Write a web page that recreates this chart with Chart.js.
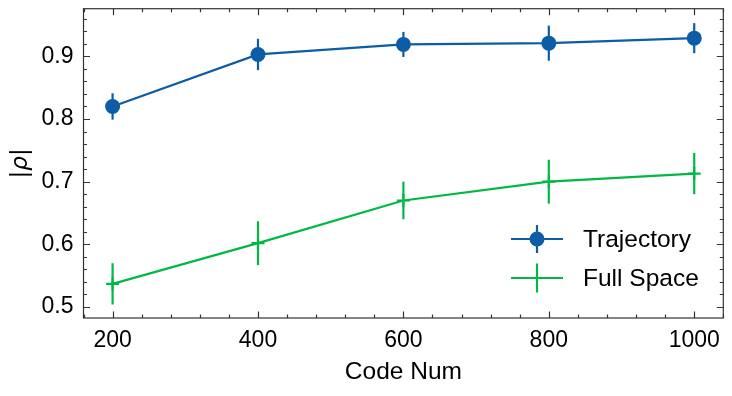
<!DOCTYPE html>
<html>
<head>
<meta charset="utf-8">
<script src="https://cdn.jsdelivr.net/npm/chart.js@4/dist/chart.umd.min.js"></script>
<style>
  html, body { margin: 0; padding: 0; background: #fff; }
  #wrap { width: 732px; height: 396px; position: relative; }
</style>
</head>
<body>
<div id="wrap"><canvas id="chart"></canvas></div>
<script>
// data
const codeNum = [200, 400, 600, 800, 1000];
const trajectory = [0.820, 0.903, 0.919, 0.921, 0.929];
const trajectoryErr = [0.021, 0.025, 0.020, 0.028, 0.024];
const fullSpace = [0.537, 0.602, 0.670, 0.700, 0.713];
const fullSpaceErr = [0.033, 0.035, 0.030, 0.035, 0.033];
const xTicks = [200, 400, 600, 800, 1000];
const yTicks = [0.5, 0.6, 0.7, 0.8, 0.9];

const BLUE = '#0C5DA5';
const GREEN = '#00B945';
const AXIS = '#333333';
const FONT = '"Liberation Sans", Arial, sans-serif';

const toPoints = (ys) => codeNum.map((x, i) => ({ x: x, y: ys[i] }));

// error bars, drawn through the scales
const errorBars = {
    id: 'errorBars',
    beforeDatasetsDraw(chart) {
        const ctx = chart.ctx;
        const xs = chart.scales.x, ys = chart.scales.y;
        chart.data.datasets.forEach(ds => {
            ctx.save();
            ctx.strokeStyle = ds.borderColor;
            ctx.lineWidth = 2.2;
            ds.data.forEach((p, i) => {
                const e = ds.errors[i];
                const px = xs.getPixelForValue(p.x);
                ctx.beginPath();
                ctx.moveTo(px, ys.getPixelForValue(p.y - e));
                ctx.lineTo(px, ys.getPixelForValue(p.y + e));
                ctx.stroke();
            });
            ctx.restore();
        });
    }
};

// inward ticks on all four sides, frame, legend and y title
const frame = {
    id: 'frame',
    afterDraw(chart) {
        const ctx = chart.ctx;
        const a = chart.chartArea;
        const xs = chart.scales.x, ys = chart.scales.y;
        ctx.save();
        ctx.strokeStyle = AXIS;
        ctx.lineWidth = 1.2;
        ctx.strokeRect(a.left, a.top, a.right - a.left, a.bottom - a.top);
        ctx.beginPath();
        // x ticks, minor every 40
        for (let v = 160; v <= 1040.01; v += 40) {
            const px = Math.round(xs.getPixelForValue(v)) + 0.5;
            const len = (v % 200 === 0) ? 6.5 : 3.5;
            ctx.moveTo(px, a.bottom); ctx.lineTo(px, a.bottom - len);
            ctx.moveTo(px, a.top); ctx.lineTo(px, a.top + len);
        }
        // y ticks, minor every 0.02
        for (let k = 25; k <= 48; k++) {
            const v = k * 0.02;
            const py = Math.round(ys.getPixelForValue(v)) + 0.5;
            const len = (k % 5 === 0) ? 6.5 : 3.5;
            ctx.moveTo(a.left, py); ctx.lineTo(a.left + len, py);
            ctx.moveTo(a.right, py); ctx.lineTo(a.right - len, py);
        }
        ctx.stroke();
        ctx.restore();

        // legend, lower right
        const items = [
            { label: 'Trajectory', color: BLUE, marker: 'circle', y: 239, err: 14 },
            { label: 'Full Space', color: GREEN, marker: 'cross', y: 278, err: 14.5 }
        ];
        ctx.save();
        items.forEach(it => {
            ctx.strokeStyle = it.color;
            ctx.fillStyle = it.color;
            ctx.lineWidth = 2.2;
            ctx.beginPath();
            ctx.moveTo(511, it.y); ctx.lineTo(563, it.y);
            ctx.moveTo(537, it.y - it.err); ctx.lineTo(537, it.y + it.err);
            ctx.stroke();
            if (it.marker === 'circle') {
                ctx.beginPath();
                ctx.arc(537, it.y, 7.5, 0, Math.PI * 2);
                ctx.fill();
            }
            ctx.fillStyle = '#000';
            ctx.font = '24.5px ' + FONT;
            ctx.textBaseline = 'middle';
            ctx.textAlign = 'left';
            ctx.fillText(it.label, 583, it.y + 1);
        });
        ctx.restore();

        // y title |ρ| with italic rho
        ctx.save();
        ctx.translate(21, (a.top + a.bottom) / 2);
        ctx.rotate(-Math.PI / 2);
        ctx.fillStyle = '#000';
        ctx.textBaseline = 'middle';
        ctx.textAlign = 'left';
        ctx.font = '23px "DejaVu Sans", sans-serif';
        const bw = ctx.measureText('|').width;
        ctx.font = 'italic 23px "DejaVu Sans", sans-serif';
        const rw = ctx.measureText('ρ').width;
        const x0 = -(bw * 2 + rw) / 2;
        ctx.font = '23px "DejaVu Sans", sans-serif';
        ctx.fillText('|', x0, 0);
        ctx.fillText('|', x0 + bw + rw, 0);
        ctx.font = 'italic 23px "DejaVu Sans", sans-serif';
        ctx.fillText('ρ', x0 + bw, 0);
        ctx.restore();
    }
};

new Chart(document.getElementById('chart'), {
    type: 'line',
    data: {
        datasets: [
            {
                label: 'Trajectory',
                data: toPoints(trajectory),
                errors: trajectoryErr,
                borderColor: BLUE,
                backgroundColor: BLUE,
                borderWidth: 2.2,
                pointStyle: 'circle',
                pointRadius: 7.5,
                pointBorderWidth: 0,
                tension: 0
            },
            {
                label: 'Full Space',
                data: toPoints(fullSpace),
                errors: fullSpaceErr,
                borderColor: GREEN,
                backgroundColor: GREEN,
                borderWidth: 2.2,
                pointStyle: 'cross',
                pointRadius: 6.5,
                pointBorderWidth: 2.2,
                tension: 0
            }
        ]
    },
    options: {
        responsive: true,
        maintainAspectRatio: false,
        animation: false,
        layout: { padding: { left: 0, right: 8, top: 8, bottom: 0 } },
        plugins: {
            legend: { display: false },
            tooltip: { enabled: false }
        },
        scales: {
            x: {
                type: 'linear',
                min: 160,
                max: 1040,
                afterBuildTicks: (s) => { s.ticks = xTicks.map(v => ({ value: v })); },
                afterFit: (s) => {
                    s.height = 78;
                    s.paddingLeft = 0; s.paddingRight = 0;
                },
                grid: { display: false, drawTicks: false },
                border: { display: false },
                ticks: {
                    color: '#000',
                    padding: 9,
                    font: { family: FONT, size: 23 },
                    maxRotation: 0,
                    autoSkip: false,
                    callback: (v) => String(v)
                },
                title: {
                    display: true,
                    text: 'Code Num',
                    color: '#000',
                    font: { family: FONT, size: 24.5 },
                    padding: { top: 4, bottom: 9 }
                }
            },
            y: {
                type: 'linear',
                min: 0.4825,
                max: 0.976,
                afterBuildTicks: (s) => { s.ticks = yTicks.map(v => ({ value: v })); },
                afterFit: (s) => {
                    s.width = 83.5;
                    s.paddingTop = 0; s.paddingBottom = 0;
                },
                grid: { display: false, drawTicks: false },
                border: { display: false },
                ticks: {
                    color: '#000',
                    padding: 10,
                    font: { family: FONT, size: 23 },
                    callback: (v) => v.toFixed(1)
                }
            }
        }
    },
    plugins: [errorBars, frame]
});
</script>
</body>
</html>
